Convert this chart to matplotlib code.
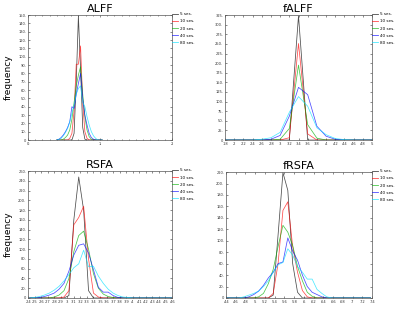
import matplotlib
matplotlib.use("Agg")
import matplotlib.pyplot as plt
from matplotlib.ticker import FuncFormatter, MultipleLocator

# sessions shown in every panel
labels = ["5 ses.", "10 ses.", "20 ses.", "40 ses.", "80 ses."]
colors = ["#000000", "#ff0000", "#00b000", "#0000ff", "#00e0ff"]

# ALFF
alff_x = [0.40, 0.43, 0.46, 0.49, 0.52, 0.55, 0.58, 0.61, 0.64, 0.67, 0.70,
          0.73, 0.76, 0.79, 0.82, 0.85, 0.88, 0.91, 0.94, 0.97, 1.00, 1.03]
alff_5 = [0, 0, 0, 0, 0, 0, 0, 0, 8, 70, 149, 85, 15, 1, 0, 0, 0, 0, 0, 0, 0, 0]
alff_10 = [0, 0, 0, 0, 0, 0, 2, 8, 35, 91, 91, 113, 45, 10, 2, 0, 0, 0, 0, 0, 0, 0]
alff_20 = [0, 0, 0, 1, 3, 6, 12, 25, 45, 65, 78, 88, 55, 28, 12, 4, 1, 0, 0, 0, 0, 0]
alff_40 = [0, 1, 3, 6, 10, 15, 22, 40, 38, 55, 68, 80, 50, 30, 18, 8, 3, 1, 0, 0, 0, 0]
alff_80 = [0, 1, 2, 5, 9, 14, 22, 32, 42, 55, 62, 65, 45, 40, 28, 18, 10, 5, 2, 0, 0, 0]

# fALFF
falff_x = [0.18, 0.20, 0.22, 0.24, 0.26, 0.28, 0.30, 0.32, 0.34, 0.36, 0.38,
           0.40, 0.42, 0.44, 0.46, 0.48, 0.50]
falff_5 = [0, 0, 0, 0, 0, 0, 0, 0, 323, 0, 0, 0, 0, 0, 0, 0, 0]
falff_10 = [0, 0, 0, 0, 0, 0, 0, 6, 251, 16, 0, 0, 0, 0, 0, 0, 0]
falff_20 = [0, 0, 0, 0, 0, 0, 2, 30, 195, 40, 5, 0, 0, 0, 0, 0, 0]
falff_40 = [0, 0, 0, 0, 0, 2, 12, 62, 137, 118, 36, 10, 2, 0, 0, 0, 0]
falff_80 = [0, 0, 0, 0, 2, 6, 20, 72, 113, 88, 32, 14, 4, 1, 0, 0, 0]

# RSFA
rsfa_x = [0.2425, 0.25, 0.2575, 0.265, 0.2725, 0.28, 0.2875, 0.295, 0.3025, 0.31,
          0.3175, 0.325, 0.3325, 0.34, 0.3475, 0.355, 0.3625, 0.37, 0.3775, 0.385,
          0.3925, 0.40, 0.4075, 0.415, 0.4225, 0.43, 0.4375, 0.445, 0.4525, 0.46]
rsfa_5 = [0, 0, 0, 0, 0, 0, 0, 0, 5, 160, 248, 180, 15, 0, 0,
          0, 0, 0, 0, 0, 0, 0, 0, 0, 0, 0, 0, 0, 0, 0]
rsfa_10 = [0, 0, 0, 0, 0, 0, 0, 2, 15, 150, 165, 188, 80, 10, 2,
           0, 0, 0, 0, 0, 0, 0, 0, 0, 0, 0, 0, 0, 0, 0]
rsfa_20 = [0, 0, 0, 0, 0, 2, 6, 15, 40, 95, 128, 137, 100, 50, 20,
           8, 3, 1, 0, 0, 0, 0, 0, 0, 0, 0, 0, 0, 0, 0]
rsfa_40 = [0, 0, 1, 3, 6, 10, 18, 30, 55, 88, 108, 111, 92, 58, 22,
           12, 12, 5, 1, 0, 0, 0, 0, 0, 0, 0, 0, 0, 0, 0]
rsfa_80 = [0, 1, 3, 6, 10, 16, 24, 35, 48, 62, 70, 98, 64, 65, 45,
           30, 18, 10, 5, 2, 1, 0, 0, 0, 0, 0, 0, 0, 0, 0]

# fRSFA
frsfa_x = [0.437, 0.447, 0.457, 0.467, 0.477, 0.487, 0.497, 0.507, 0.517, 0.527,
           0.537, 0.547, 0.557, 0.567, 0.577, 0.587, 0.597, 0.607, 0.617, 0.627,
           0.637, 0.647, 0.657, 0.667, 0.677, 0.687, 0.697, 0.707, 0.717, 0.727, 0.737]
frsfa_5 = [0, 0, 0, 0, 0, 0, 0, 0, 0, 0, 5, 110, 219, 188, 60, 10,
           0, 0, 0, 0, 0, 0, 0, 0, 0, 0, 0, 0, 0, 0, 0]
frsfa_10 = [0, 0, 0, 0, 0, 0, 0, 0, 0, 0, 8, 60, 153, 168, 90, 45,
            13, 2, 0, 0, 0, 0, 0, 0, 0, 0, 0, 0, 0, 0, 0]
frsfa_20 = [0, 0, 0, 0, 0, 0, 0, 2, 8, 25, 50, 90, 127, 115, 92, 55,
            30, 10, 3, 0, 0, 0, 0, 0, 0, 0, 0, 0, 0, 0, 0]
frsfa_40 = [0, 0, 0, 0, 0, 2, 6, 12, 22, 35, 45, 60, 63, 105, 82, 66,
            40, 20, 10, 6, 2, 0, 0, 0, 0, 0, 0, 0, 0, 0, 0]
frsfa_80 = [0, 0, 0, 0, 2, 5, 8, 12, 20, 30, 45, 58, 62, 86, 75, 55,
            45, 33, 33, 15, 8, 2, 0, 0, 0, 0, 0, 0, 0, 0, 0]

panels = [
    ("ALFF", alff_x, [alff_5, alff_10, alff_20, alff_40, alff_80],
     (0, 2), 1.0, 0.1, (0, 150), 10, [0.07, 0.554, 0.36, 0.398]),
    ("fALFF", falff_x, [falff_5, falff_10, falff_20, falff_40, falff_80],
     (0.18, 0.50), 0.02, None, (0, 325), 25, [0.5625, 0.554, 0.3675, 0.398]),
    ("RSFA", rsfa_x, [rsfa_5, rsfa_10, rsfa_20, rsfa_40, rsfa_80],
     (0.24, 0.46), 0.01, None, (0, 260), 20, [0.07, 0.051, 0.36, 0.404]),
    ("fRSFA", frsfa_x, [frsfa_5, frsfa_10, frsfa_20, frsfa_40, frsfa_80],
     (0.44, 0.74), 0.02, None, (0, 220), 20, [0.565, 0.051, 0.365, 0.401]),
]


def fmt(v, pos=None):
    v = round(v, 6)
    if v == 0:
        return "0"
    if float(v).is_integer():
        return "%d." % int(v)
    s = ("%g" % v)
    if s.startswith("0."):
        s = s[1:]
    return s


def fmt_x(v, pos=None):
    v = round(v, 6)
    if float(v).is_integer():
        return "%d." % int(v)
    return fmt(v)


fig = plt.figure(figsize=(4.0, 3.14), dpi=100)

for i, (title, x, ys, xl, xmaj, xmin, yl, ymaj, rect) in enumerate(panels):
    ax = fig.add_axes(rect)
    for y, c, lab in zip(ys, colors, labels):
        ax.plot(x, y, color=c, lw=0.55, alpha=0.7, label=lab)
    ax.set_xlim(*xl)
    ax.set_ylim(*yl)
    ax.xaxis.set_major_locator(MultipleLocator(xmaj))
    if xmin:
        ax.xaxis.set_minor_locator(MultipleLocator(xmin))
    ax.yaxis.set_major_locator(MultipleLocator(ymaj))
    ax.xaxis.set_major_formatter(FuncFormatter(fmt_x))
    ax.yaxis.set_major_formatter(FuncFormatter(fmt))
    ax.tick_params(which="both", direction="in", top=True, right=True,
                   labelsize=2.6, length=1.5, width=0.4, pad=1.2, colors="#333333")
    ax.tick_params(which="minor", length=0.9)
    for s in ax.spines.values():
        s.set_linewidth(0.5)
        s.set_color("#555555")
    ax.set_title(title, fontsize=8, pad=2.5)
    if i % 2 == 0:
        ax.set_ylabel("frequency", fontsize=6.5, labelpad=4)
    leg = ax.legend(loc="upper left", bbox_to_anchor=(1.0, 1.025), fontsize=3,
                    frameon=False, handlelength=1.3, handletextpad=0.4,
                    borderpad=0, borderaxespad=0.1, labelspacing=0.75)
    for line in leg.get_lines():
        line.set_linewidth(0.6)

fig.savefig("out.png", dpi=100)
